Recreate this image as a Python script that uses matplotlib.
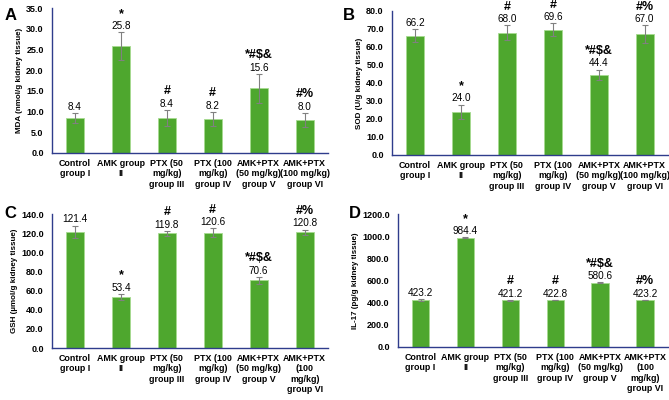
import matplotlib
matplotlib.use("Agg")
import matplotlib.pyplot as plt
import numpy as np

plt.rcParams['font.family'] = ['Liberation Sans', 'DejaVu Sans']

groups = ["Control\ngroup I", "AMK group\nII", "PTX (50\nmg/kg)\ngroup III",
          "PTX (100\nmg/kg)\ngroup IV", "AMK+PTX\n(50 mg/kg)\ngroup V",
          "AMK+PTX\n(100 mg/kg)\ngroup VI"]
groups_low = ["Control\ngroup I", "AMK group\nII", "PTX (50\nmg/kg)\ngroup III",
              "PTX (100\nmg/kg)\ngroup IV", "AMK+PTX\n(50 mg/kg)\ngroup V",
              "AMK+PTX\n(100\nmg/kg)\ngroup VI"]

mda = [8.4, 25.8, 8.4, 8.2, 15.6, 8.0]
mda_err = [1.2, 3.3, 2.0, 1.7, 3.5, 1.7]
sod = [66.2, 24.0, 68.0, 69.6, 44.4, 67.0]
sod_err = [3.6, 4.0, 4.0, 3.5, 3.0, 5.0]
gsh = [121.4, 53.4, 119.8, 120.6, 70.6, 120.8]
gsh_err = [6.5, 3.0, 2.5, 4.5, 3.5, 3.0]
il17 = [423.2, 984.4, 421.2, 422.8, 580.6, 423.2]
il17_err = [10.0, 4.0, 3.0, 3.0, 3.0, 3.0]

marks = ["", "*", "#", "#", "*#$&", "#%"]

green = "#4EA72E"
navy = "#2F3C8C"

fig = plt.figure(figsize=(6.69, 4.0), dpi=100)


def panel(rect, vals, errs, ymax, step, ylabel, letter, labels, letter_xy):
    ax = fig.add_axes(rect)
    x = np.arange(len(vals))
    ax.bar(x, vals, width=0.39, color=green, edgecolor="#A6DB90", linewidth=0.6,
           yerr=errs, error_kw=dict(ecolor="#808080", elinewidth=0.8, capsize=2, capthick=0.8))
    ax.set_xlim(-0.5, len(vals) - 0.5)
    ax.set_ylim(0, ymax)
    ticks = np.arange(0, ymax + step / 2, step)
    ax.set_yticks(ticks)
    ax.set_yticklabels([f"{t:.1f}" for t in ticks], fontsize=6.5, fontweight="bold")
    ax.set_xticks(x)
    ax.set_xticklabels(labels, fontsize=6.4, fontweight="bold", linespacing=1.22)
    ax.tick_params(axis="both", length=0)
    ax.tick_params(axis="y", pad=6)
    ax.tick_params(axis="x", pad=4)
    for s in ["top", "right"]:
        ax.spines[s].set_visible(False)
    for s in ["left", "bottom"]:
        ax.spines[s].set_color(navy)
        ax.spines[s].set_linewidth(1.0)
    ax.set_ylabel(ylabel, fontsize=5.8, fontweight="bold", labelpad=2.5)
    for xi, v, e, m in zip(x, vals, errs, marks):
        top = v + e
        ax.annotate(f"{v:.1f}", (xi, top), xytext=(0, 4.5), textcoords="offset points",
                    ha="center", va="center", fontsize=7.2)
        if m:
            ax.annotate(m, (xi, top), xytext=(0, 13.5), textcoords="offset points",
                        ha="center", va="center", fontsize=9, fontweight="bold",
                        annotation_clip=False)
    fig.text(letter_xy[0], letter_xy[1], letter, fontsize=12, fontweight="bold",
             ha="left", va="center")
    return ax


panel([0.0777, 0.6175, 0.412, 0.3625], mda, mda_err, 35, 5,
      "MDA (nmol/g kidney tissue)", "A", groups, (0.007, 0.962))
panel([0.586, 0.6125, 0.412, 0.36], sod, sod_err, 80, 10,
      "SOD (U/g kidney tissue)", "B", groups, (0.512, 0.962))
panel([0.0777, 0.13, 0.412, 0.335], gsh, gsh_err, 140, 20,
      "GSH (\u00b5mol/g kidney tissue)", "C", groups_low, (0.007, 0.465))
panel([0.595, 0.1325, 0.403, 0.3325], il17, il17_err, 1200, 200,
      "IL-17 (pg/g kidney tissue)", "D", groups_low, (0.522, 0.465))

fig.savefig("out.png", dpi=100)
